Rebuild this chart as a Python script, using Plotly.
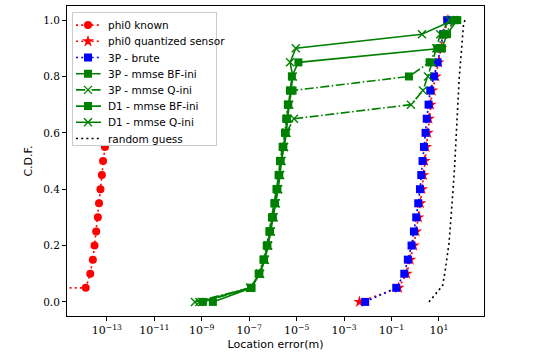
import plotly.graph_objects as go

# CDF levels
cdf = [0.0, 0.05, 0.1, 0.15, 0.2, 0.25, 0.3, 0.35, 0.4, 0.45, 0.5,
       0.55, 0.6, 0.65, 0.7, 0.75, 0.8, 0.85, 0.9, 0.95, 1.0]

# log10 of location errors (m)
phi0_known_log = [-300, -13.89, -13.70, -13.59, -13.52, -13.45, -13.38, -13.33, -13.27,
                  -13.21, -13.16, -13.08, -13.02, -12.97, -12.92, -12.86, -12.80,
                  -12.74, -12.67, -12.60, -12.50]
phi0_quant_log = [-2.35, -0.70, -0.36, -0.21, -0.06, 0.04, 0.14, 0.22, 0.29, 0.35, 0.40,
                  0.46, 0.53, 0.58, 0.65, 0.72, 0.87, 0.99, 1.10, 1.20, 1.38]
brute_3p_log = [-2.11, -0.80, -0.46, -0.31, -0.155, -0.054, 0.043, 0.128, 0.200, 0.255,
                0.310, 0.369, 0.436, 0.487, 0.563, 0.635, 0.791, 0.943, 1.06, 1.18, 1.35]
mmse_bf_3p_log = [-8.95, -6.92, -6.60, -6.40, -6.26, -6.15, -6.04, -5.94, -5.85, -5.76,
                  -5.70, -5.59, -5.49, -5.44, -5.37, -5.17, -0.265, 0.605, 0.93, 1.226, 1.69]
mmse_q_3p_log = [-9.285, -6.96, -6.55, -6.35, -6.21, -6.10, -5.98, -5.89, -5.79, -5.71,
                 -5.65, -5.54, -5.44, -5.11, -0.18, 0.327, 0.538, 0.719, 0.888, 1.057, 1.45]
mmse_bf_d1_log = [-8.53, -6.90, -6.57, -6.37, -6.23, -6.12, -6.00, -5.91, -5.81, -5.73,
                  -5.67, -5.56, -5.46, -5.41, -5.35, -5.28, -5.20, -4.925, 1.128, 1.339, 1.774]
mmse_q_d1_log = [-9.10, -6.95, -6.54, -6.34, -6.20, -6.09, -5.97, -5.88, -5.78, -5.70,
                 -5.64, -5.53, -5.43, -5.38, -5.31, -5.24, -5.16, -5.275, -5.034, 0.284, 1.618]
random_guess_log = [0.580, 0.943, 1.154, 1.268, 1.340, 1.424, 1.479, 1.550, 1.605,
                    1.660, 1.702, 1.762, 1.859, 1.973, 2.040, 2.099]
random_guess_cdf = [0.0, 0.037, 0.058, 0.113, 0.16, 0.208, 0.267, 0.338, 0.409,
                    0.48, 0.551, 0.634, 0.8, 0.917, 0.988, 1.0]

x_tick_exps = [-13, -11, -9, -7, -5, -3, -1, 1]
x_tick_text = ["10<sup>\u221213</sup>", "10<sup>\u221211</sup>", "10<sup>\u22129</sup>",
               "10<sup>\u22127</sup>", "10<sup>\u22125</sup>", "10<sup>\u22123</sup>",
               "10<sup>\u22121</sup>", "10<sup>1</sup>"]
y_tick_vals = [0.0, 0.2, 0.4, 0.6, 0.8, 1.0]
y_tick_text = ["0.0", "0.2", "0.4", "0.6", "0.8", "1.0"]


def p(logs):
    return [10.0 ** v for v in logs]


DOT = "2px,3.2px"
DASHDOT = "9px,2.5px,1.6px,2.5px"
GREEN = "#008000"

fig = go.Figure()
fig.add_trace(go.Scatter(x=p(phi0_known_log), y=cdf, name="phi0 known", mode="lines+markers",
                         line=dict(color="red", width=1.6, dash=DOT),
                         marker=dict(symbol="circle", size=8, color="red")))
fig.add_trace(go.Scatter(x=p(phi0_quant_log), y=cdf, name="phi0 quantized sensor", mode="lines+markers",
                         line=dict(color="red", width=1.6, dash=DOT),
                         marker=dict(symbol="star", size=9, color="red")))
fig.add_trace(go.Scatter(x=p(brute_3p_log), y=cdf, name="3P - brute", mode="lines+markers",
                         line=dict(color="blue", width=1.6, dash=DOT),
                         marker=dict(symbol="square", size=8, color="blue")))
fig.add_trace(go.Scatter(x=p(mmse_bf_3p_log), y=cdf, name="3P - mmse BF-ini", mode="lines+markers",
                         line=dict(color=GREEN, width=1.6, dash=DASHDOT),
                         marker=dict(symbol="square", size=8, color=GREEN)))
fig.add_trace(go.Scatter(x=p(mmse_q_3p_log), y=cdf, name="3P - mmse Q-ini", mode="lines+markers",
                         line=dict(color=GREEN, width=1.6, dash=DASHDOT),
                         marker=dict(symbol="x-thin-open", size=8, color=GREEN,
                                     line=dict(color=GREEN, width=1.4))))
fig.add_trace(go.Scatter(x=p(mmse_bf_d1_log), y=cdf, name="D1 - mmse BF-ini", mode="lines+markers",
                         line=dict(color=GREEN, width=1.6),
                         marker=dict(symbol="square", size=8, color=GREEN)))
fig.add_trace(go.Scatter(x=p(mmse_q_d1_log), y=cdf, name="D1 - mmse Q-ini", mode="lines+markers",
                         line=dict(color=GREEN, width=1.6),
                         marker=dict(symbol="x-thin-open", size=8, color=GREEN,
                                     line=dict(color=GREEN, width=1.4))))
fig.add_trace(go.Scatter(x=p(random_guess_log), y=random_guess_cdf, name="random guess", mode="lines",
                         line=dict(color="black", width=1.6, dash=DOT)))

fig.update_layout(
    width=538, height=353,
    margin=dict(l=67, r=54, t=6, b=37, autoexpand=False),
    paper_bgcolor="white", plot_bgcolor="white",
    font=dict(family="DejaVu Sans", size=11, color="black"),
    showlegend=True,
    legend=dict(x=0.012, y=0.982, xanchor="left", yanchor="top",
                bgcolor="white", bordercolor="#cccccc", borderwidth=1,
                font=dict(family="DejaVu Sans", size=10.5), itemwidth=30,
                tracegroupgap=0),
)
fig.update_xaxes(type="log", range=[-14.68, 2.90], automargin=False,
                 tickvals=[10.0 ** e for e in x_tick_exps], ticktext=x_tick_text,
                 tickfont=dict(family="DejaVu Serif", size=11),
                 showgrid=False, zeroline=False, showline=True, linecolor="black", linewidth=1,
                 mirror=True, ticks="outside", ticklen=4, tickcolor="black",
                 title=dict(text="Location error(m)", font=dict(family="DejaVu Sans", size=11), standoff=4))
fig.update_yaxes(range=[-0.05, 1.05], automargin=False,
                 tickvals=y_tick_vals, ticktext=y_tick_text,
                 tickfont=dict(family="DejaVu Serif", size=10.5),
                 showgrid=False, zeroline=False, showline=True, linecolor="black", linewidth=1,
                 mirror=True, ticks="outside", ticklen=4, tickcolor="black",
                 title=dict(text="C.D.F.", font=dict(family="DejaVu Sans", size=11), standoff=8))

# compact the legend rows (matplotlib-like spacing) and remove page margin
post = """
document.body.style.margin='0';
document.body.style.overflow='hidden';
var gd = document.getElementsByClassName('plotly-graph-div')[0];
var leg = gd.querySelector('g.legend');
if (leg) {
  var items = leg.querySelectorAll('g.traces');
  var step = 16.2, y0 = null, shift = 5;
  items.forEach(function(el, i) {
    var t = el.getAttribute('transform') || 'translate(0,0)';
    var m = /translate\\(\\s*([-\\d.e]+)[\\s,]*([-\\d.e]+)?\\s*\\)/.exec(t);
    var x = m ? parseFloat(m[1]) : 0;
    var y = (m && m[2]) ? parseFloat(m[2]) : 0;
    if (y0 === null) { y0 = y - 2; }
    el.setAttribute('transform', 'translate(' + x + ',' + (y0 + i * step) + ')');
    var txt = el.querySelector('text.legendtext');
    if (txt) { txt.setAttribute('x', parseFloat(txt.getAttribute('x')) - shift); }
    el.querySelectorAll('g.legendlines path').forEach(function(pth) {
      pth.setAttribute('d', 'M3,0h25');
    });
    var sym = el.querySelector('g.legendsymbols');
    if (sym) { sym.setAttribute('transform', 'translate(-5,0)'); }
  });
  var bg = leg.querySelector('rect.bg');
  if (bg) {
    bg.setAttribute('height', parseFloat(bg.getAttribute('height')) - items.length * (19 - step) - 7);
    bg.setAttribute('width', parseFloat(bg.getAttribute('width')) - 20);
  }
}
"""
fig.write_html("out.html", config={"displayModeBar": False}, post_script=post)
